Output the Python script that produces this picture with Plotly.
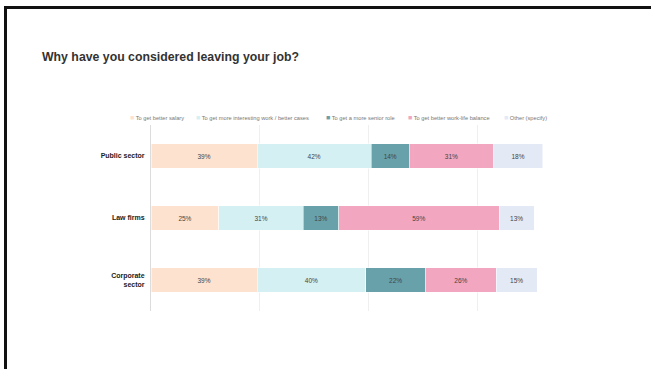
import plotly.graph_objects as go

# Survey responses: share of respondents citing each reason, by sector
sectors = ["Public sector", "Law firms", "Corporate<br>sector"]
reasons = [
    "To get better salary",
    "To get more interesting work / better cases",
    "To get a more senior role",
    "To get better work-life balance",
    "Other (specify)",
]
salary = [39, 25, 39]
interesting_work = [42, 31, 40]
senior_role = [14, 13, 22]
work_life = [31, 59, 26]
other = [18, 13, 15]

series = [salary, interesting_work, senior_role, work_life, other]
colors = ["#FDE3CF", "#D4F0F3", "#68A1AA", "#F2A6BF", "#E3EAF6"]

FONT = "Liberation Sans, Arial, Helvetica, sans-serif"

# Plot area geometry (pixels) used to place the legend row and frame lines
W, H = 651, 369
ML, MR, MT, MB = 151, 65, 125, 58
PW, PH = W - ML - MR, H - MT - MB


def px_x(px):
    return (px - ML) / PW


def px_y(py):
    return (H - MB - py) / PH


fig = go.Figure()
for name, vals, col in zip(reasons, series, colors):
    fig.add_trace(go.Bar(
        y=sectors,
        x=vals,
        name=name,
        orientation="h",
        marker=dict(color=col, line=dict(color="white", width=0.5)),
        texttemplate="%{x}%",
        textposition="inside",
        insidetextanchor="middle",
        textangle=0,
        textfont=dict(size=6.5, color="#444", family=FONT),
        showlegend=False,
    ))

# Legend row: coloured square followed by the reason text
legend_px = [128, 194, 324, 406, 502]
annotations = []
for name, col, lx in zip(reasons, colors, legend_px):
    annotations.append(dict(
        x=px_x(lx), y=px_y(117), xref="paper", yref="paper",
        xanchor="left", yanchor="middle", showarrow=False,
        text=f'<span style="color:{col};font-size:7px">■</span> {name}',
        font=dict(size=5.7, color="#777", family=FONT),
    ))

# Slide frame (left and top edges)
shapes = [
    dict(type="line", xref="paper", yref="paper",
         x0=px_x(5.5), x1=px_x(5.5), y0=px_y(380), y1=px_y(6),
         line=dict(color="#111", width=3)),
    dict(type="line", xref="paper", yref="paper",
         x0=px_x(4), x1=px_x(W), y0=px_y(7.5), y1=px_y(7.5),
         line=dict(color="#111", width=3)),
]

fig.update_layout(
    width=W, height=H,
    margin=dict(l=ML, r=MR, t=MT, b=MB),
    barmode="stack",
    bargap=0.6,
    paper_bgcolor="white",
    plot_bgcolor="white",
    font=dict(family=FONT, color="#333"),
    title=dict(
        text="<b>Why have you considered leaving your job?</b>",
        x=42 / W, xanchor="left", xref="container",
        y=1 - 57 / H, yanchor="middle", yref="container",
        font=dict(size=12.3, color="#333", family=FONT),
    ),
    xaxis=dict(
        range=[0, 160], dtick=40, showticklabels=False,
        showgrid=True, gridcolor="#EFEFEF", gridwidth=1,
        zeroline=False, showline=False, fixedrange=True,
    ),
    yaxis=dict(
        categoryorder="array", categoryarray=sectors,
        autorange="reversed",
        showline=True, linecolor="#DCDCDC", linewidth=1,
        ticks="", ticklabelstandoff=4,
        tickfont=dict(size=7, color="#222", family=FONT, weight="bold"),
        showgrid=False, zeroline=False,
    ),
    annotations=annotations,
    shapes=shapes,
)

fig.write_html("out.html")
